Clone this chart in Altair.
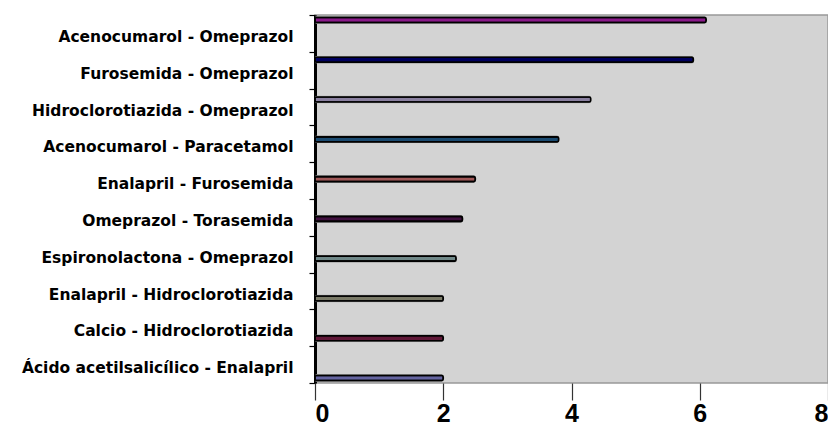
import altair as alt
import pandas as pd

pairs = [
    "Acenocumarol - Omeprazol",
    "Furosemida - Omeprazol",
    "Hidroclorotiazida - Omeprazol",
    "Acenocumarol - Paracetamol",
    "Enalapril - Furosemida",
    "Omeprazol - Torasemida",
    "Espironolactona - Omeprazol",
    "Enalapril - Hidroclorotiazida",
    "Calcio - Hidroclorotiazida",
    "Ácido acetilsalicílico - Enalapril",
]
values = [6.1, 5.9, 4.3, 3.8, 2.5, 2.3, 2.2, 2.0, 2.0, 2.0]
colors = ["#8a1a8a", "#00005e", "#8a80a0", "#1a4a70", "#a05858",
          "#40103f", "#708888", "#7a7a68", "#601838", "#6464a0"]

df = pd.DataFrame({"pair": pairs, "value": values})

xscale = alt.Scale(domain=[0, 8])
xaxis = alt.Axis(values=[0, 2, 4, 6, 8], format="d", title=None, grid=False,
                 domain=False, tickColor="#333333", tickSize=17, tickWidth=1.2,
                 labelFont="Liberation Sans", labelFontWeight="bold",
                 labelFontSize=25, labelColor="black", labelPadding=1)
X = alt.X("value:Q", scale=xscale, axis=xaxis)

labels = alt.Chart(df).mark_point(opacity=0).encode(
    x=X,
    y=alt.Y("pair:N", sort=pairs,
            scale=alt.Scale(paddingInner=0, paddingOuter=0),
            axis=alt.Axis(title=None, tickBand="extent", tickSize=6, tickColor="black",
                          tickWidth=1.2, domainColor="black", domainWidth=3,
                          labelFont="DejaVu Sans", labelFontWeight="bold",
                          labelFontSize=15.5, labelColor="black", labelLimit=400,
                          labelPadding=16, labelOffset=3)),
)

ybars = alt.Y("pair:N", sort=pairs, scale=alt.Scale(type="point", padding=0.126), axis=None)

shadow = alt.Chart(df).mark_bar(height=8, color="#8c8c8c", cornerRadius=2).encode(
    x=X,
    y=ybars,
)

bars = alt.Chart(df).mark_bar(height=5, stroke="black", strokeWidth=1.6, cornerRadius=1.5).encode(
    x=X,
    y=ybars,
    color=alt.Color("pair:N", scale=alt.Scale(domain=pairs, range=colors), legend=None),
)

chart = alt.layer(labels, alt.layer(shadow, bars)).resolve_scale(y="independent").properties(
    width=513, height=368,
    autosize=alt.AutoSizeParams(type="none"),
    padding={"left": 307, "top": 7, "right": 0, "bottom": 44},
    background="white",
).configure_view(fill="#d3d3d3", stroke="#999999", strokeWidth=1.5)

chart.save("out.html", embed_options={"renderer": "svg", "actions": False})
